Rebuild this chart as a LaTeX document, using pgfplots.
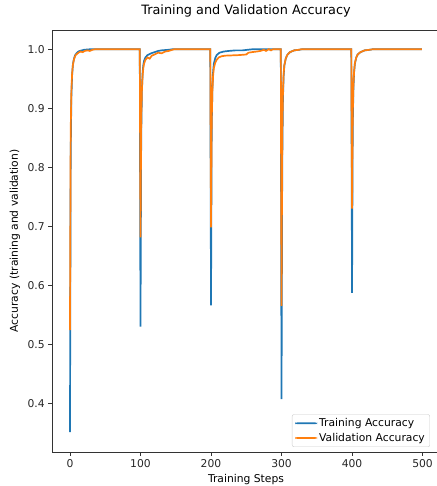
\documentclass[border=0pt]{standalone}
\usepackage{pgfplots}
\pgfplotsset{compat=1.18}
\usepackage{fontspec}
\setmainfont{DejaVu Sans}
\definecolor{tabblue}{HTML}{1F77B4}
\definecolor{taborange}{HTML}{FF7F0E}
\begin{document}
\begin{tikzpicture}
\begin{axis}[
 at={(0,0)}, anchor=south west,
 scale only axis, width=385bp, height=422bp,
 xmin=-25.5, xmax=520.5, ymin=0.3175, ymax=1.0325,
 axis line style={line width=0.86bp, black!80},
 xtick={0,100,200,300,400,500}, ytick={0.4,0.5,0.6,0.7,0.8,0.9,1.0},
 tick align=outside, xtick pos=lower, ytick pos=left,
 major tick length=3.8bp,
 every tick/.style={black!80, line width=0.86bp},
 /pgf/number format/assume math mode=true,
 yticklabel style={/pgf/number format/.cd, fixed, fixed zerofill, precision=1},
 ticklabel style={font=\fontsize{10.8}{12}\selectfont, text=black!85},
 title={Training and Validation Accuracy},
 title style={font=\fontsize{12.9}{14}\selectfont, at={(rel axis cs:0.5,1)}, anchor=south, inner sep=0pt, yshift=6.5bp, xshift=1.5bp},
 xlabel={Training Steps},
 ylabel={Accuracy (training and validation)},
 every axis x label/.style={font=\fontsize{10.8}{12}\selectfont, at={(rel axis cs:0.5,0)}, anchor=center, yshift=-28bp, xshift=1.5bp},
 every axis y label/.style={font=\fontsize{10.8}{12}\selectfont, at={(rel axis cs:-0.0961,0.5)}, anchor=center, rotate=90},
 legend style={at={(rel axis cs:1,0)}, anchor=south east, xshift=-7bp, yshift=5bp,
   font=\fontsize{10.8}{12}\selectfont, draw=black!20, rounded corners=2bp,
   fill=white, inner xsep=3bp, inner ysep=2bp,
   row sep=1bp},
 legend cell align=left,
 legend image code/.code={\fill[#1, draw=none] (0bp,-0.9bp) rectangle (22bp,0.9bp);},
]
\addplot[tabblue, line width=1.7bp] coordinates {
(0,0.351)(1,0.82)(2,0.92)(3,0.955)(4,0.972)(5,0.980)(6,0.985)(7,0.989)(8,0.991)(10,0.994)(12,0.996)(14,0.997)(17,0.998)(20,0.999)(25,0.9995)(30,1.0)(99,1.0)
(100,0.530)(101,0.85)(102,0.93)(103,0.96)(104,0.973)(105,0.98)(107,0.986)(110,0.99)(115,0.993)(120,0.995)(125,0.997)(130,0.998)(140,0.999)(146,1.0)(199,1.0)
(200,0.566)(201,0.87)(202,0.935)(203,0.962)(204,0.975)(206,0.985)(208,0.99)(212,0.994)(218,0.996)(225,0.997)(235,0.998)(245,0.998)(252,0.999)(260,1.0)(299,1.0)
(300,0.407)(301,0.80)(302,0.915)(303,0.955)(304,0.972)(306,0.984)(308,0.99)(312,0.995)(318,0.998)(325,0.999)(330,1.0)(399,1.0)
(400,0.587)(401,0.87)(402,0.935)(403,0.962)(404,0.975)(406,0.986)(408,0.991)(412,0.995)(418,0.998)(425,0.999)(430,1.0)(499,1.0)
};
\addlegendentry{Training Accuracy}
\addplot[taborange, line width=1.7bp] coordinates {
(0,0.524)(1,0.86)(2,0.93)(3,0.958)(4,0.972)(5,0.979)(6,0.984)(7,0.987)(8,0.99)(10,0.992)(12,0.994)(15,0.996)(18,0.995)(21,0.997)(25,0.998)(28,0.997)(32,0.999)(36,1.0)(99,1.0)
(100,0.681)(101,0.88)(102,0.93)(103,0.955)(104,0.968)(105,0.975)(107,0.982)(110,0.986)(113,0.984)(116,0.989)(120,0.991)(125,0.994)(130,0.993)(135,0.996)(140,0.997)(148,1.0)(199,1.0)
(200,0.698)(201,0.88)(202,0.93)(203,0.955)(204,0.968)(206,0.977)(208,0.982)(211,0.986)(215,0.988)(220,0.989)(230,0.9895)(240,0.990)(250,0.991)(253,0.994)(258,0.995)(265,0.996)(270,0.997)(275,0.999)(278,0.997)(282,1.0)(285,0.998)(288,1.0)(299,1.0)
(300,0.565)(301,0.85)(302,0.925)(303,0.958)(304,0.973)(306,0.984)(308,0.99)(312,0.995)(318,0.998)(325,0.999)(328,1.0)(399,1.0)
(400,0.730)(401,0.89)(402,0.94)(403,0.963)(404,0.976)(406,0.986)(408,0.991)(412,0.995)(418,0.998)(425,0.999)(430,1.0)(499,1.0)
};
\addlegendentry{Validation Accuracy}
\end{axis}
\pgfresetboundingbox
\useasboundingbox (-52bp,-34bp) rectangle (385bp,452bp);
\end{tikzpicture}
\end{document}
